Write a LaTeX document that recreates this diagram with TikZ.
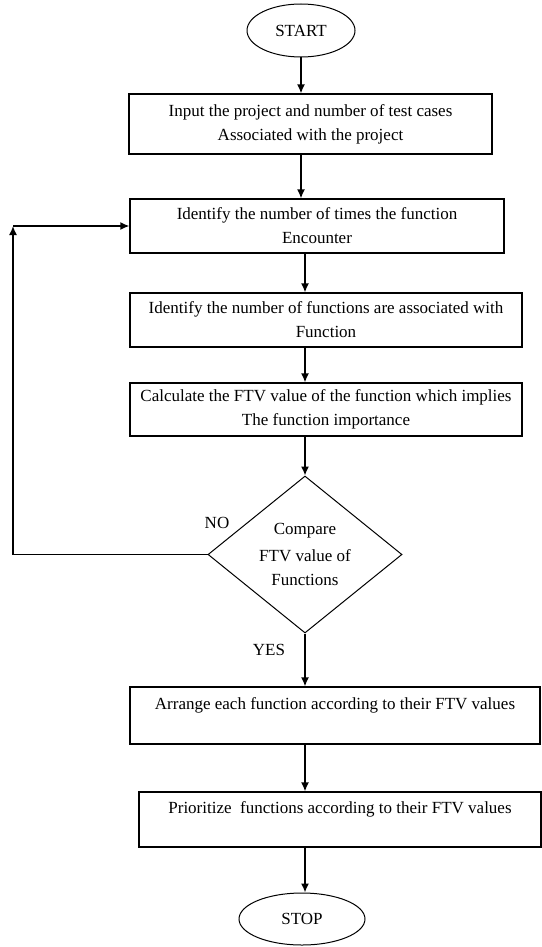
\documentclass[tikz,border=0pt]{standalone}
\usepackage{fontspec}
\setmainfont{Liberation Serif}
\usetikzlibrary{shapes.geometric,arrows.meta}
\tikzset{
    terminal/.style={
        draw, ellipse, line width=1pt,
        inner sep=0pt, text=black
    },
    process/.style={
        draw, rectangle, line width=1.2pt,
        align=center, inner sep=0pt, text=black
    },
    decision/.style={
        draw, diamond, line width=1pt,
        align=center, inner sep=0pt, text=black
    },
    answer/.style={inner sep=0pt, text=black},
    connect/.style={-{Latex[length=9pt,width=8pt]}, line width=1.5pt},
    x=1pt, y=-1pt,
    every node/.style={font=\fontsize{17}{24}\selectfont}
}
\begin{document}
\begin{tikzpicture}
	\useasboundingbox (0,0) rectangle (541,947);

	\node[terminal, minimum width=108pt, minimum height=53pt] (start) at (301,30.5) {START};
	\node[process, minimum width=363pt, minimum height=60pt] (input) at (310.5,124)
	    {Input the project and number of test cases\\Associated with the project};
	\node[process, minimum width=374pt, minimum height=54pt] (times) at (317,226)
	    {Identify the number of times the function\\Encounter};
	\node[process, minimum width=392pt, minimum height=54pt] (assoc) at (326,320)
	    {Identify the number of functions are associated with\\Function};
	\node[process, minimum width=392pt, minimum height=53pt] (calc) at (326,409.5)
	    {Calculate the FTV value of the function which implies\\The function importance};
	\node[decision, minimum width=194pt, minimum height=157pt] (comp) at (305,554.5)
	    {Compare\\[3pt]FTV value of\\Functions};
	\node[process, minimum width=410pt, minimum height=57pt] (arrange) at (335,715.5)
	    {Arrange each function according to their FTV values\\\mbox{}};
	\node[process, minimum width=402pt, minimum height=55pt] (prio) at (340,819.5)
	    {Prioritize\ \ functions according to their FTV values\\\mbox{}};
	\node[terminal, minimum width=126pt, minimum height=52pt] (stop) at (302,919) {STOP};

	\node[answer] (no) at (217,523) {NO};
	\node[answer] (yes) at (269,650) {YES};
	\coordinate (loop) at (13,226);

	\draw[connect] (start) -- (input.north -| start);
	\draw[connect] (input.south -| start) -- (times.north -| start);
	\draw[connect] (times.south -| comp) -- (assoc.north -| comp);
	\draw[connect] (assoc.south -| comp) -- (calc.north -| comp);
	\draw[connect] (calc.south -| comp.north) -- (comp.north);
	\draw[connect] (comp.south) -- (arrange.north -| comp.south);
	\draw[connect] (arrange.south -| comp) -- (prio.north -| comp);
	\draw[connect] (prio.south -| comp) -- (stop.north -| comp);
	\draw[connect] (comp.west) -| (loop);
	\draw[connect] (loop) -- (times.west);
\end{tikzpicture}
\end{document}
